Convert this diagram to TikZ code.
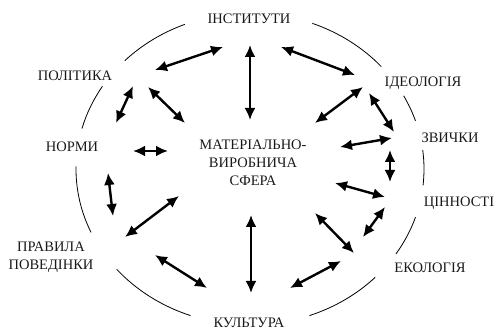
\documentclass[tikz,border=0pt]{standalone}
\usepackage{fontspec}
\setmainfont{Liberation Serif}
\usetikzlibrary{arrows.meta}

\begin{document}
\begin{tikzpicture}[x=1pt, y=-1pt,
  term/.style={font=\rmfamily\fontsize{14.5}{18}\selectfont, align=center, inner sep=0pt, text=black!90},
  link/.style={{Latex[length=12pt,width=11pt]}-{Latex[length=12pt,width=11pt]}, line width=2.4pt},
  rim/.style={line width=0.8pt}]
\useasboundingbox (0,0) rectangle (496,331);

% Spheres round the core
\node[term] (inst) at (249,19) {ІНСТИТУТИ};
\node[term] (pol) at (75,76) {ПОЛІТИКА};
\node[term] (norm) at (72,147) {НОРМИ};
\node[term] (rule) at (51,257) {ПРАВИЛА\\ПОВЕДІНКИ};
\node[term] (cult) at (249,323) {КУЛЬТУРА};
\node[term] (eco) at (430,268) {ЕКОЛОГІЯ};
\node[term] (value) at (459,203) {ЦІННОСТІ};
\node[term] (habit) at (450,138) {ЗВИЧКИ};
\node[term] (ideo) at (423,83) {ІДЕОЛОГІЯ};

% Core
\node[term] (core) at (253,163) {МАТЕРІАЛЬНО-\\ВИРОБНИЧА\\СФЕРА};

% Outer ring, broken at the labels
\coordinate (hub) at (250,169);
\foreach \from/\to in {112/136, 148/165, 179/204, 220/250, 41/69, 18/28, -6/7, -33/-18, -70/-44} {
  \draw[rim] (hub) ++(\from:174pt and 156pt) arc[start angle=\from, end angle=\to, x radius=174pt, y radius=156pt];
}

% Two-way links
\foreach \n/\xa/\ya/\xb/\yb in {instpol/223/47/155/70, instcore/250/45/250/120, instideo/281/47/355/75,
    polnorm/133/86/116/123, polcore/148/87/185/123, normcore/133/151/168/151,
    ideocore/363/87/315/123, ideohabit/369/93/394/132, corehabit/340/147/392/138,
    habitvalue/390/150/390/182, corevalue/335/183/385/197, valueeco/385/207/363/237,
    coreeco/315/213/354/253, ecocult/341/261/290/288, corecult/251/215/251/293,
    normrule/108/173/113/216, rulecore/179/196/125/237, rulecult/155/255/207/288} {
  \coordinate (\n-a) at (\xa,\ya);
  \coordinate (\n-b) at (\xb,\yb);
  \draw[link] (\n-a) -- (\n-b);
}
\end{tikzpicture}
\end{document}
